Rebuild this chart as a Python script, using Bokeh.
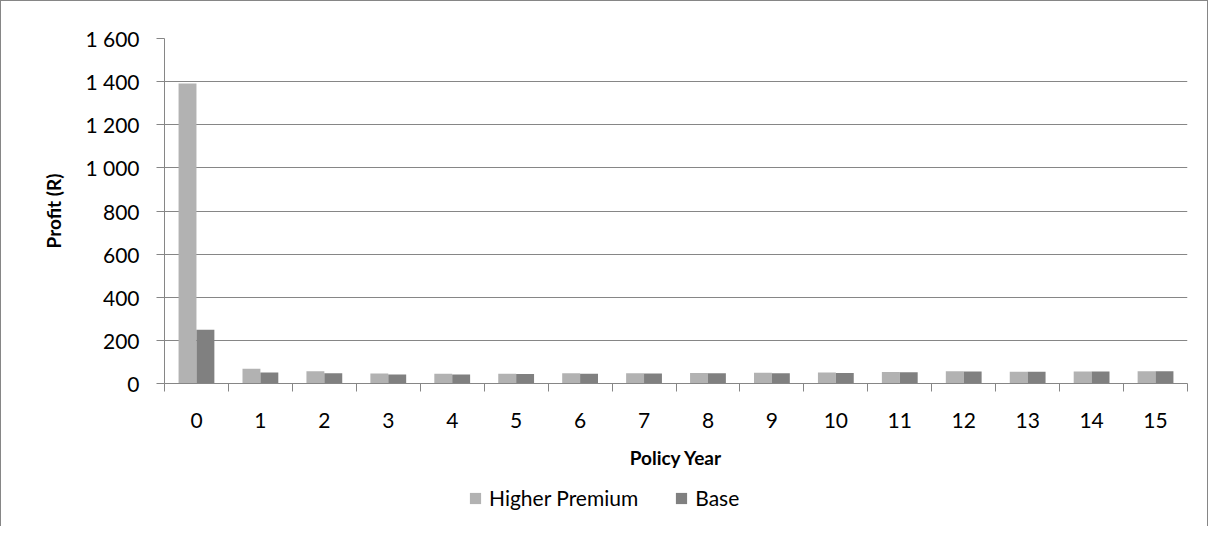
from bokeh.plotting import figure
from bokeh.layouts import column
from bokeh.models import (ColumnDataSource, FixedTicker, CustomJSTickFormatter,
                          Legend, LegendItem, Range1d)
from bokeh.transform import dodge
from bokeh.embed import file_html
from bokeh.resources import INLINE

years = list(range(16))
higher_premium = [1391, 68, 57, 46, 45, 45, 47, 48, 49, 50, 51, 53, 57, 55, 56, 57]
base = [249, 51, 48, 42, 42, 44, 45, 46, 47, 48, 49, 52, 56, 54, 56, 57]
y_ticks = [0, 200, 400, 600, 800, 1000, 1200, 1400, 1600]
series_names = ["Higher Premium", "Base"]
series_colors = ["#B2B2B2", "#808080"]

FONT = "Lato"
GRAY = "#868686"
FS = "21px"      # tick labels and legend
FS_T = "19px"    # axis titles
W = 1206

src = ColumnDataSource(dict(year=years, hp=higher_premium, base=base))

p = figure(width=W, height=470, output_backend="svg", toolbar_location=None,
           x_range=Range1d(-0.5, 15.5), y_range=Range1d(0, 1600),
           min_border_left=163, min_border_right=20, min_border_top=37,
           min_border_bottom=86)
p.outline_line_color = None

r1 = p.vbar(x=dodge("year", -0.14, range=p.x_range), top="hp", width=0.28,
            source=src, fill_color=series_colors[0], line_color=None)
r2 = p.vbar(x=dodge("year", 0.14, range=p.x_range), top="base", width=0.28,
            source=src, fill_color=series_colors[1], line_color=None)

# x axis
p.xaxis.ticker = FixedTicker(ticks=years, minor_ticks=[y - 0.5 for y in years] + [15.5])
p.xaxis.major_tick_line_color = None
p.xaxis.major_tick_out = 0
p.xaxis.major_tick_in = 0
p.xaxis.minor_tick_line_color = GRAY
p.xaxis.minor_tick_out = 8
p.xaxis.minor_tick_in = 0
p.xaxis.axis_line_color = GRAY
p.xaxis.major_label_standoff = 21
p.xaxis.major_label_text_font = FONT
p.xaxis.major_label_text_font_size = FS
p.xaxis.major_label_text_color = "black"
p.xaxis.axis_label = "Policy Year"
p.xaxis.axis_label_text_font = FONT
p.xaxis.axis_label_text_font_size = FS_T
p.xaxis.axis_label_text_font_style = "bold"
p.xaxis.axis_label_text_color = "black"
p.xaxis.axis_label_standoff = 15
p.xgrid.grid_line_color = None

# y axis
p.yaxis.ticker = FixedTicker(ticks=y_ticks)
p.yaxis.formatter = CustomJSTickFormatter(code="""
    return tick.toFixed(0).replace(/\\B(?=(\\d{3})+(?!\\d))/g, " ");
""")
p.yaxis.minor_tick_line_color = None
p.yaxis.major_tick_line_color = GRAY
p.yaxis.major_tick_out = 8
p.yaxis.major_tick_in = 0
p.yaxis.axis_line_color = GRAY
p.yaxis.major_label_standoff = 17
p.yaxis.major_label_text_font = FONT
p.yaxis.major_label_text_font_size = FS
p.yaxis.major_label_text_color = "black"
p.yaxis.axis_label = "Profit (R)"
p.yaxis.axis_label_text_font = FONT
p.yaxis.axis_label_text_font_size = FS_T
p.yaxis.axis_label_text_font_style = "bold"
p.yaxis.axis_label_text_color = "black"
p.yaxis.axis_label_standoff = 17
p.ygrid.grid_line_color = GRAY
p.ygrid.grid_line_width = 1

# legend strip below the chart
lg = figure(width=W, height=55, output_backend="svg", toolbar_location=None,
            x_range=Range1d(0, 1), y_range=Range1d(0, 1),
            x_axis_type=None, y_axis_type=None, min_border=0)
lg.outline_line_color = None
lg.grid.visible = False
items = []
for name, col in zip(series_names, series_colors):
    # zero-height bar: only used to give the legend its swatch colour
    rr = lg.vbar(x=[0.5], top=[0], bottom=[0], width=0.01,
                 fill_color=col, line_color=None)
    items.append(LegendItem(label=name, renderers=[rr]))
legend = Legend(items=items, orientation="horizontal", location=(304, 16),
                glyph_width=14, glyph_height=14, label_text_font=FONT,
                label_text_font_size=FS, label_text_color="black",
                label_standoff=7, spacing=36, padding=0, margin=0,
                border_line_color=None, background_fill_alpha=0)
lg.add_layout(legend, "center")

layout = column(p, lg, spacing=0)
layout.styles = {"border-top": "1px solid #868686", "border-left": "1px solid #868686",
                 "border-right": "1px solid #868686"}

open("out.html", "w").write(file_html(layout, INLINE))
